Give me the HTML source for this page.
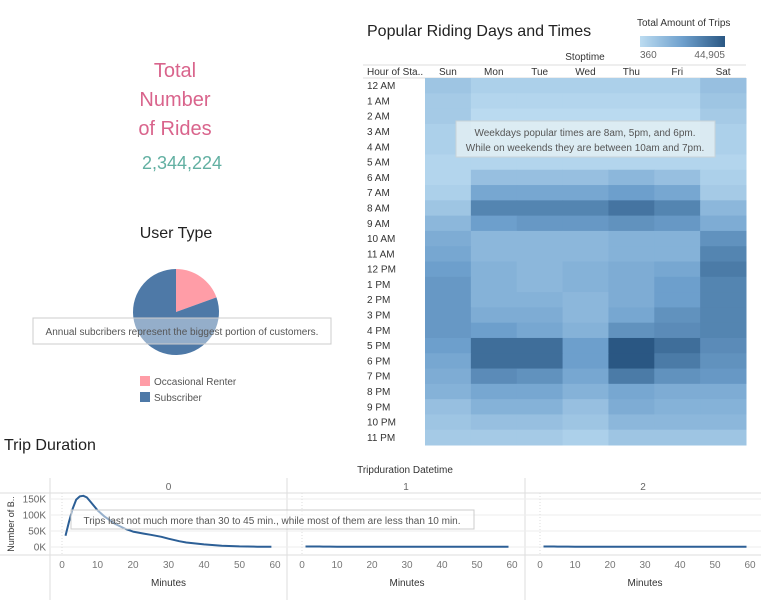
<!DOCTYPE html>
<html><head><meta charset="utf-8"><style>
body{margin:0;background:#fff;width:761px;height:604px;overflow:hidden;font-family:"Liberation Sans",sans-serif}
svg text{font-family:"Liberation Sans",sans-serif}
</style></head><body>
<svg id="s" width="761" height="604" xmlns="http://www.w3.org/2000/svg">
<defs><linearGradient id="lg" x1="0" x2="1"><stop offset="0" stop-color="#bcdcf1"/><stop offset="0.5" stop-color="#6ea0cd"/><stop offset="1" stop-color="#2a5783"/></linearGradient></defs>
<g>
<text x="175" y="77" text-anchor="middle" font-size="20" fill="#d9648c">Total</text>
<text x="175" y="106" text-anchor="middle" font-size="20" fill="#d9648c">Number</text>
<text x="175" y="135" text-anchor="middle" font-size="20" fill="#d9648c">of Rides</text>
<text x="182" y="169" text-anchor="middle" font-size="18" fill="#62b0a2">2,344,224</text>
</g>
<text x="176" y="238" text-anchor="middle" font-size="16" fill="#222">User Type</text>
<g id="pie"></g>
<rect x="33" y="318" width="298" height="26" fill="#fff" fill-opacity="0.4" stroke="#ccc"/>
<text x="182" y="335" text-anchor="middle" font-size="10" fill="#555">Annual subcribers represent the biggest portion of customers.</text>
<rect x="140" y="376" width="10" height="10" fill="#ff9da7"/>
<text x="154" y="385" font-size="10" fill="#555">Occasional Renter</text>
<rect x="140" y="392" width="10" height="10" fill="#4e79a7"/>
<text x="154" y="401" font-size="10" fill="#555">Subscriber</text>

<text x="367" y="36" font-size="16" fill="#222">Popular Riding Days and Times</text>
<text x="637" y="26" font-size="10" fill="#333">Total Amount of Trips</text>
<rect x="640" y="36" width="85" height="11" fill="url(#lg)"/>
<text x="640" y="58" font-size="10" fill="#666">360</text>
<text x="725" y="58" text-anchor="end" font-size="10" fill="#666">44,905</text>
<text x="585" y="60" text-anchor="middle" font-size="10" fill="#333">Stoptime</text>
<text x="367" y="75" font-size="10" fill="#333">Hour of Sta..</text>
<line x1="363" y1="65" x2="746" y2="65" stroke="#ddd"/>
<line x1="363" y1="78" x2="746" y2="78" stroke="#ddd"/>
<g id="hm"></g>
<rect x="456" y="121" width="259" height="36" fill="#e2eef3" fill-opacity="0.85" stroke="#c8d3d8"/>
<text x="585" y="136" text-anchor="middle" font-size="10" fill="#555">Weekdays popular times are 8am, 5pm, and 6pm.</text>
<text x="585" y="151" text-anchor="middle" font-size="10" fill="#555">While on weekends they are between 10am and 7pm.</text>

<text x="4" y="450" font-size="16" fill="#222">Trip Duration</text>
<text x="405" y="473" text-anchor="middle" font-size="10" fill="#333">Tripduration Datetime</text>
<g id="lc"></g>
<rect x="71" y="510" width="403" height="19" fill="#fff" fill-opacity="0.5" stroke="#ccc"/>
<text x="272" y="524" text-anchor="middle" font-size="10" fill="#555">Trips last not much more than 30 to 45 min., while most of them are less than 10 min.</text>
</svg>
<script>
const NS="http://www.w3.org/2000/svg";
function mk(t,a,p){const e=document.createElementNS(NS,t);for(const k in a)e.setAttribute(k,a[k]);p.appendChild(e);return e;}
// pie data
const userTypes=["Occasional Renter","Subscriber"];
const userShares=[19.5,80.5];
const pieColors=["#ff9da7","#4e79a7"];
const pie=document.getElementById('pie');
let a0=0;const cx=176,cy=312,r=43,tot=userShares.reduce((a,b)=>a+b,0);
userShares.forEach((v,i)=>{const a1=a0+v/tot*2*Math.PI;
const x0=cx+r*Math.sin(a0),y0=cy-r*Math.cos(a0),x1=cx+r*Math.sin(a1),y1=cy-r*Math.cos(a1);
const p=mk('path',{d:`M${cx},${cy}L${x0},${y0}A${r},${r} 0 ${a1-a0>Math.PI?1:0} 1 ${x1},${y1}Z`,fill:pieColors[i]},pie);


a0=a1;});
// heatmap data (thousands of trips)
const days=["Sun","Mon","Tue","Wed","Thu","Fri","Sat"];
const hours=["12 AM","1 AM","2 AM","3 AM","4 AM","5 AM","6 AM","7 AM","8 AM","9 AM","10 AM","11 AM","12 PM","1 PM","2 PM","3 PM","4 PM","5 PM","6 PM","7 PM","8 PM","9 PM","10 PM","11 PM"];
const trips=[
[9,5,5,5,5,5,11],[7,3,3,3,3,3,9],[7,1,1,1,1,1,7],[5,1,1,1,1,1,5],[5,1,1,1,1,1,5],[3,3,3,3,3,3,3],
[3,11,11,11,14,11,5],[5,20,20,20,23,20,7],[9,31,31,31,36,31,14],[14,23,25,25,27,25,18],
[18,14,14,14,16,16,27],[20,14,14,14,16,16,31],[23,16,14,16,18,20,34],[25,16,14,16,18,23,31],
[25,16,16,14,18,23,31],[25,18,18,14,20,27,31],[25,23,20,16,27,29,31],[23,38,38,23,44.9,38,29],
[20,38,38,23,44.9,34,27],[18,29,27,20,34,27,25],[16,20,20,16,20,18,18],[11,16,16,11,18,16,16],
[9,11,11,9,14,14,14],[7,7,7,5,9,9,9]];
const vmin=0.36,vmax=44.905;
const c0=[188,220,241],cm=[110,160,205],c1=[42,87,131];
function col(v){let t=Math.max(0,Math.min(1,(v-vmin)/(vmax-vmin)));let a=c0,b=cm;if(t>0.5){a=cm;b=c1;t=(t-0.5)*2;}else t=t*2;
return `rgb(${a.map((c,i)=>Math.round(c+(b[i]-c)*t)).join(',')})`;}
const hm=document.getElementById('hm');
const hx0=425,cw=(746-425)/7,hy0=78,rh=(445-78)/24;
days.forEach((d,j)=>{const t=mk('text',{x:hx0+cw*j+cw/2,y:75,'text-anchor':'middle','font-size':10,fill:'#333'},hm);t.textContent=d;

});
hours.forEach((h,i)=>{const t=mk('text',{x:367,y:hy0+rh*i+rh/2+3.5,'font-size':10,fill:'#333'},hm);t.textContent=h;


trips[i].forEach((v,j)=>{const c=mk('rect',{x:hx0+cw*j,y:hy0+rh*i,width:cw+0.5,height:rh+0.5,fill:col(v)},hm);

});});
// line chart data
const minutes=[1,2,3,4,5,6,7,8,10,12,15,18,20,23,25,28,30,33,35,40,45,50,55,59];
const countsDay0=[35,80,120,148,158,160,155,142,115,95,72,56,48,42,38,32,26,18,14,8,4,2,1,0.5];
const countsDay1=[1.5,1.5,1.5,1.5,1.5,1.2,1.2,1.2,1,1,1,1,1,1,1,1,1,1,1,1,1,1,1,1];
const countsDay2=[1.5,1.5,1.5,1.5,1.2,1.2,1.2,1.2,1,1,1,1,1,1,1,1,1,1,1,1,1,1,1,1];
const panelLabels=["0","1","2"];
const xTicks=[0,10,20,30,40,50,60];
const yTicks=[0,50,100,150];
const yTickLabels=["0K","50K","100K","150K"];
const lc=document.getElementById('lc');
const panels=[[62,275],[302,512],[540,750]];
const yb=547,ys=48/150;
const Y=v=>yb-v*ys;
mk('line',{x1:50,y1:478,x2:50,y2:600,stroke:'#ddd'},lc);
mk('line',{x1:0,y1:493,x2:761,y2:493,stroke:'#ddd'},lc);
mk('line',{x1:0,y1:555,x2:761,y2:555,stroke:'#ddd'},lc);
[287,525].forEach(x=>mk('line',{x1:x,y1:478,x2:x,y2:600,stroke:'#ddd'},lc));
const yt=mk('text',{x:14,y:524,'text-anchor':'middle','font-size':9,fill:'#333',transform:'rotate(-90 14 524)'},lc);yt.textContent="Number of B..";


yTicks.forEach((v,i)=>{const t=mk('text',{x:46,y:Y(v)+3.5,'text-anchor':'end','font-size':10,fill:'#666'},lc);t.textContent=yTickLabels[i];


mk('line',{x1:50,y1:Y(v),x2:761,y2:Y(v),stroke:'#eee'},lc);});
[countsDay0,countsDay1,countsDay2].forEach((s,p)=>{const [a,b]=panels[p];const X=m=>a+(b-a)*m/60;
const h=mk('text',{x:(p==0?50:[287,525][p-1])+((p==0?287:p==1?525:761)-(p==0?50:[287,525][p-1]))/2,y:490,'text-anchor':'middle','font-size':10,fill:'#666'},lc);h.textContent=panelLabels[p];


mk('line',{x1:X(0),y1:493,x2:X(0),y2:555,stroke:'#ddd','stroke-dasharray':'1,2'},lc);
xTicks.forEach(m=>{const t=mk('text',{x:X(m),y:568,'text-anchor':'middle','font-size':10,fill:'#777'},lc);t.textContent=m;

});
const mt=mk('text',{x:(a+b)/2,y:586,'text-anchor':'middle','font-size':10,fill:'#333'},lc);mt.textContent="Minutes";


let d='';minutes.forEach((m,i)=>{d+=(i?'L':'M')+X(m).toFixed(1)+','+Y(s[i]).toFixed(1);});
const l=mk('path',{d:d,fill:'none',stroke:'#2c5f96','stroke-width':2,'stroke-linejoin':'round'},lc);

});
</script>
</body></html>
